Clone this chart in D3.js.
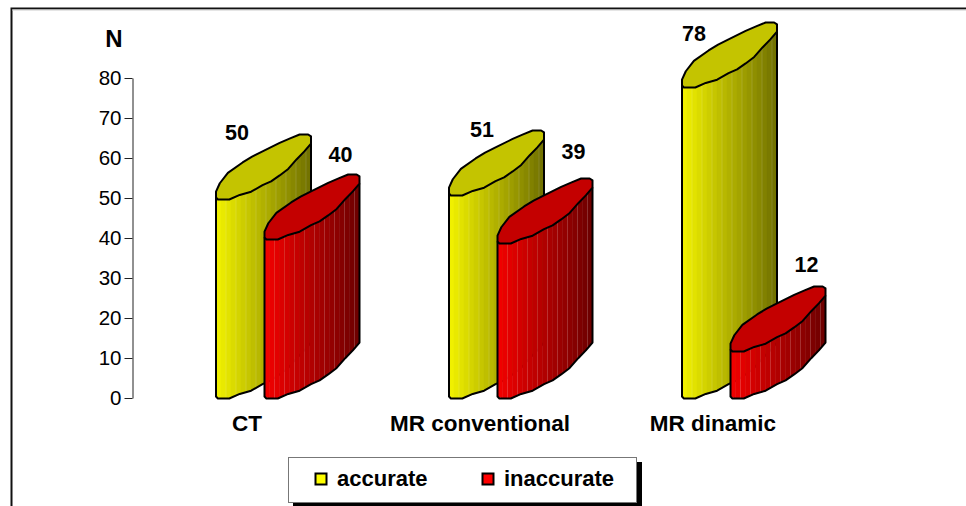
<!DOCTYPE html>
<html>
<head>
<meta charset="utf-8">
<title>accurate / inaccurate</title>
<style>
  html, body { margin: 0; padding: 0; background: #fff; }
  svg { display: block; }
  text { font-family: "Liberation Sans", Arial, sans-serif; fill: #000; }
  .val, .cat, .leg, .ytitle { font-weight: bold; }
</style>
<script src="https://d3js.org/d3.v7.min.js"></script>
</head>
<body>
<script>
// data
var categories = ["CT", "MR conventional", "MR dinamic"];
var seriesNames = ["accurate", "inaccurate"];
var accurate = [50, 51, 78];
var inaccurate = [40, 39, 12];
var yTicks = [0, 10, 20, 30, 40, 50, 60, 70, 80];

// label nudges, they were placed by hand in the original
var accurateLabelDx = [21, 33, 12];
var accurateLabelDy = [-58, -57, -45];
var inaccurateLabelDy = [-76, -83, -78];

var w = 966, h = 506;
var barW = 95, depth = 65, seriesStep = 48.5;

var svg = d3.select("body").append("svg").attr("width", w).attr("height", h);

var y = d3.scaleLinear().domain([0, 80]).range([398, 78]);
var x = d3.scalePoint().domain(categories).range([216, 682]);
var u = d3.scaleLinear().domain([0, 1]).range([0, barW]);
var v = d3.scaleLinear().domain([0, 1]).range([0, -depth]);

// the slanted "cylinder" cross-section, as fractions of width and depth
var frontEdge = [[0, .03], [.02, 0], [.14, 0], [.25, .07], [.37, .12], [.49, .22], [.58, .28],
                 [.67, .37], [.76, .47], [.85, .62], [.93, .74], [1, .86]];
var backEdge = [[1, .97], [.97, 1], [.88, 1], [.78, .94], [.67, .87], [.49, .74], [.38, .66],
                [.28, .57], [.125, .41], [.04, .25], [0, .12]];

var frontV = d3.scaleLinear().domain(frontEdge.map(function (d) { return d[0]; }))
                             .range(frontEdge.map(function (d) { return d[1]; }));

var colors = {
  accurate: { left: "#f0f000", right: "#6c6c00", top: "#c4c400", key: "#ffff00" },
  inaccurate: { left: "#f00000", right: "#680000", top: "#c40000", key: "#ff0000" }
};

// frame
svg.append("path").attr("d", "M11.5,506V8.5H966").attr("fill", "none")
   .attr("stroke", "#111").attr("stroke-width", 2);
svg.append("line").attr("x1", 12).attr("x2", 966).attr("y1", 10).attr("y2", 10)
   .attr("stroke", "#ccc").attr("stroke-width", 1);

// axis
var axis = d3.axisLeft(y).tickValues(yTicks).tickSizeInner(8).tickSizeOuter(0).tickPadding(3);
var gAxis = svg.append("g").attr("transform", "translate(132.5,0)").call(axis);
gAxis.selectAll("path,line").attr("stroke", "#222").attr("stroke-width", 1);
gAxis.selectAll("text").attr("font-size", 20.5).attr("fill", "#000")
     .style("font-family", '"Liberation Sans", Arial, sans-serif');
svg.append("text").attr("class", "ytitle").attr("x", 114).attr("y", 47)
   .attr("text-anchor", "middle").attr("font-size", 24).text("N");

var line = d3.line();

function drawBar(g, x0, value, c) {
  var yTop = y(value) + 1.5, yBot = y(0) + 0.5;
  var nFacets = 19;
  var shade = d3.interpolateRgb(c.left, c.right);

  // side face, one strip per facet
  d3.range(nFacets).forEach(function (i) {
    var a = i / nFacets, b = (i + 1) / nFacets;
    var pts = [[x0 + u(a), yTop + v(frontV(a))], [x0 + u(b), yTop + v(frontV(b))],
               [x0 + u(b), yBot + v(frontV(b))], [x0 + u(a), yBot + v(frontV(a))]];
    g.append("polygon").attr("points", pts.join(" "))
     .attr("fill", shade(a)).attr("stroke", shade(a)).attr("stroke-width", 0.5);
    if (i > 0 && i % 2 === 0) {
      g.append("line").attr("x1", pts[0][0]).attr("x2", pts[0][0])
       .attr("y1", pts[0][1]).attr("y2", pts[3][1])
       .attr("stroke", "#fff").attr("stroke-opacity", 0.14).attr("stroke-width", 1);
    }
  });

  // outline of the body
  var bottom = frontEdge.map(function (d) { return [x0 + u(d[0]), yBot + v(d[1])]; });
  var last = frontEdge[frontEdge.length - 1];
  g.append("path")
   .attr("d", "M" + [x0, yTop + v(frontEdge[0][1])] + line(bottom).replace("M", "L")
        + "L" + [x0 + u(1), yTop + v(last[1])])
   .attr("fill", "none").attr("stroke", "#000").attr("stroke-width", 2).attr("stroke-linejoin", "round");

  // top face
  var top = frontEdge.concat(backEdge).map(function (d) { return [x0 + u(d[0]), yTop + v(d[1])]; });
  g.append("path").attr("d", line(top) + "Z")
   .attr("fill", c.top).attr("stroke", "#000").attr("stroke-width", 2).attr("stroke-linejoin", "round");
}

var gBars = svg.append("g");
categories.forEach(function (cat, i) {
  drawBar(gBars.append("g"), x(cat), accurate[i], colors.accurate);
  drawBar(gBars.append("g"), x(cat) + seriesStep, inaccurate[i], colors.inaccurate);
});

// value labels
svg.selectAll("text.val.a").data(accurate).enter().append("text")
   .attr("class", "val a").attr("font-size", 21.5).attr("text-anchor", "middle")
   .attr("x", function (d, i) { return x(categories[i]) + accurateLabelDx[i]; })
   .attr("y", function (d, i) { return y(d) + accurateLabelDy[i]; })
   .text(function (d) { return d; });
svg.selectAll("text.val.b").data(inaccurate).enter().append("text")
   .attr("class", "val b").attr("font-size", 21.5).attr("text-anchor", "middle")
   .attr("x", function (d, i) { return x(categories[i]) + seriesStep + 76; })
   .attr("y", function (d, i) { return y(d) + inaccurateLabelDy[i]; })
   .text(function (d) { return d; });

// category labels
svg.selectAll("text.cat").data(categories).enter().append("text")
   .attr("class", "cat").attr("font-size", 22.5).attr("text-anchor", "middle")
   .attr("x", function (d) { return x(d) + 31; })
   .attr("y", 431)
   .text(function (d) { return d; });

// legend
svg.append("rect").attr("x", 293).attr("y", 462).attr("width", 349).attr("height", 44).attr("fill", "#000");
svg.append("rect").attr("x", 288.5).attr("y", 457.5).attr("width", 348).attr("height", 45)
   .attr("fill", "#fff").attr("stroke", "#777").attr("stroke-width", 1);
var legX = [315, 482];
var gLeg = svg.selectAll("g.legend").data(seriesNames).enter().append("g")
              .attr("class", "legend")
              .attr("transform", function (d, i) { return "translate(" + legX[i] + ",473)"; });
gLeg.append("rect").attr("x", 0.5).attr("y", 0.5).attr("width", 11).attr("height", 11)
    .attr("fill", function (d) { return colors[d].key; })
    .attr("stroke", "#000").attr("stroke-width", 2);
gLeg.append("text").attr("class", "leg").attr("x", 22).attr("y", 12.5)
    .attr("font-size", 22).text(function (d) { return d; });
</script>
</body>
</html>
